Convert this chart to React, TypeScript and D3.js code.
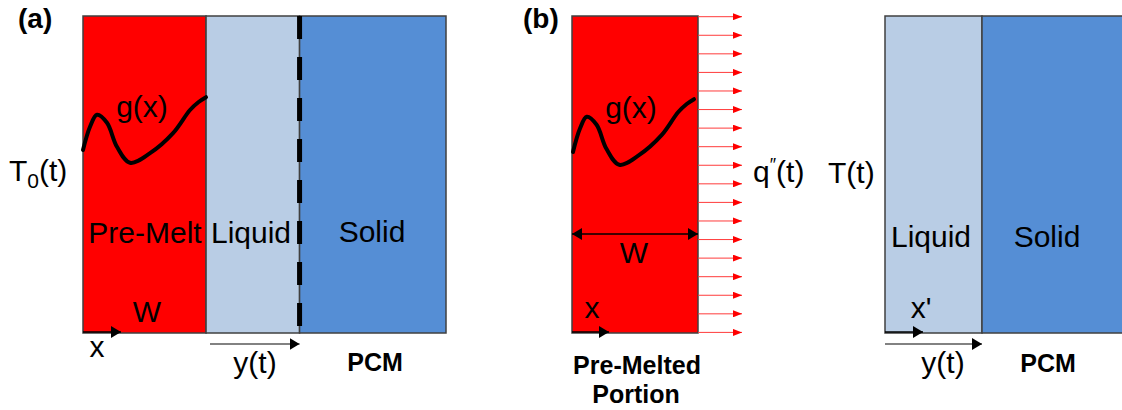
import React from 'react';
import * as d3 from 'd3';

// Layers of the one-dimensional melting problem (positions in units of W)
const layersA = ['Pre-Melt', 'Liquid', 'Solid'];
const boundsA = [0, 1.0, 1.76, 2.95];
const layersB = ['Pre-Melted'];
const boundsB = [0, 1];
const layersC = ['Liquid', 'Solid'];
const boundsC = [0, 0.77, 1.92];

// Initial temperature profile g(x) inside the pre-melted slab
const gPosX = [0, 0.057, 0.114, 0.195, 0.276, 0.382, 0.545, 0.732, 0.87, 0.94, 1.0];
const gVal = [0.25, 0.54, 0.69, 0.59, 0.29, 0.09, 0.21, 0.46, 0.75, 0.85, 0.91];

// Number of heat-flux arrows leaving the pre-melted slab
const fluxCount = 18;

const fills: Record<string, string> = {
  'Pre-Melt': '#FF0000',
  'Pre-Melted': '#FF0000',
  Liquid: '#B9CDE5',
  Solid: '#558ED5',
};

const FONT = '"Liberation Sans", Arial, sans-serif';
const TOP = 16;
const BOTTOM = 333;
const EDGE = '#404040';

function Layers({ names, bounds, x }: { names: string[]; bounds: number[]; x: d3.ScaleLinear<number, number> }) {
  return (
    <g>
      {names.map((n, i) => (
        <rect
          key={n}
          x={x(bounds[i])}
          y={TOP}
          width={x(bounds[i + 1]) - x(bounds[i])}
          height={BOTTOM - TOP}
          fill={fills[n]}
          stroke={EDGE}
          strokeWidth={1.5}
        />
      ))}
    </g>
  );
}

function GCurve({ x, y }: { x: d3.ScaleLinear<number, number>; y: d3.ScaleLinear<number, number> }) {
  const line = d3
    .line<number>()
    .x((_, i) => x(gPosX[i]))
    .y((d) => y(d))
    .curve(d3.curveCatmullRom.alpha(0.5));
  return <path d={line(gVal) || ''} fill="none" stroke="#000" strokeWidth={4} strokeLinecap="round" />;
}

export default function App() {
  const xA = d3.scaleLinear().domain([0, boundsA[3]]).range([83, 446]);
  const xB = d3.scaleLinear().domain([0, 1]).range([572, 698]);
  const xC = d3.scaleLinear().domain([0, boundsC[1]]).range([885, 982]);

  const gxA = d3.scaleLinear().domain([0, 1]).range([83, 206]);
  const gyA = d3.scaleLinear().domain([0, 1]).range([170, 90]);
  const gxB = d3.scaleLinear().domain([0, 1]).range([573, 694]);
  const gyB = d3.scaleLinear().domain([0, 1]).range([172, 92]);

  const fluxY = d3.scalePoint<number>().domain(d3.range(fluxCount)).range([16.7, 332.4]);

  const txt = { fontFamily: FONT, fontSize: 30, fill: '#000' } as const;
  const bold = { fontFamily: FONT, fontSize: 25, fontWeight: 700, fill: '#000' } as const;

  return (
    <svg
      width={1122}
      height={410}
      style={{ position: 'absolute', left: 0, top: 0, background: '#fff' }}
    >
      <defs>
        <marker id="headK" viewBox="0 0 10 10" refX={10} refY={5} markerWidth={10} markerHeight={12}
          markerUnits="userSpaceOnUse" orient="auto-start-reverse" preserveAspectRatio="none">
          <path d="M0,0 L10,5 L0,10 z" fill="#000" />
        </marker>
        <marker id="headR" viewBox="0 0 10 10" refX={10} refY={5} markerWidth={9} markerHeight={7}
          markerUnits="userSpaceOnUse" orient="auto" preserveAspectRatio="none">
          <path d="M0,0 L10,5 L0,10 z" fill="#FF0000" />
        </marker>
      </defs>

      {/* (a) melting with a pre-melted layer */}
      <Layers names={layersA} bounds={boundsA} x={xA} />
      <line x1={xA(boundsA[2])} x2={xA(boundsA[2])} y1={TOP} y2={BOTTOM}
        stroke="#000" strokeWidth={5} strokeDasharray="23 18" />
      <GCurve x={gxA} y={gyA} />
      <text x={18} y={28} style={{ ...bold, fontSize: 28 }}>(a)</text>
      <text x={9} y={181} style={txt}>T<tspan fontSize={21} dy={7}>0</tspan><tspan dy={-7}>(t)</tspan></text>
      <text x={142} y={117} textAnchor="middle" style={txt}>g(x)</text>
      <text x={145} y={243} textAnchor="middle" style={txt}>Pre-Melt</text>
      <text x={251} y={243} textAnchor="middle" style={txt}>Liquid</text>
      <text x={372} y={242} textAnchor="middle" style={txt}>Solid</text>
      <text x={147} y={322} textAnchor="middle" style={txt}>W</text>
      <line x1={xA(0)} x2={121} y1={BOTTOM - 1} y2={BOTTOM - 1} stroke="#000" strokeWidth={1.5} markerEnd="url(#headK)" />
      <text x={97} y={357} textAnchor="middle" style={txt}>x</text>
      <line x1={210} x2={xA(boundsA[2])} y1={344} y2={344} stroke="#595959" strokeWidth={1.5} markerEnd="url(#headK)" />
      <text x={255} y={373} textAnchor="middle" style={txt}>y(t)</text>
      <text x={375} y={371} textAnchor="middle" style={bold}>PCM</text>

      {/* (b) pre-melted portion with outgoing heat flux */}
      <Layers names={layersB} bounds={boundsB} x={xB} />
      <GCurve x={gxB} y={gyB} />
      {fluxY.domain().map((k) => (
        <line key={k} x1={xB(1)} x2={742} y1={fluxY(k)} y2={fluxY(k)}
          stroke="#FF3b3b" strokeWidth={1} markerEnd="url(#headR)" />
      ))}
      <text x={523} y={28} style={{ ...bold, fontSize: 28 }}>(b)</text>
      <text x={631} y={118} textAnchor="middle" style={txt}>g(x)</text>
      <line x1={xB(0)} x2={xB(1)} y1={234} y2={234} stroke="#000" strokeWidth={1.5}
        markerStart="url(#headK)" markerEnd="url(#headK)" />
      <text x={634} y={263} textAnchor="middle" style={txt}>W</text>
      <text x={592} y={318} textAnchor="middle" style={txt}>x</text>
      <line x1={xB(0)} x2={609} y1={BOTTOM - 1} y2={BOTTOM - 1} stroke="#000" strokeWidth={1.5} markerEnd="url(#headK)" />
      <text x={637} y={374} textAnchor="middle" style={bold}>Pre-Melted</text>
      <text x={636} y={403} textAnchor="middle" style={bold}>Portion</text>
      <text x={753} y={182} style={txt}>q<tspan fontSize={18} dy={-11}>″</tspan><tspan dy={11}>(t)</tspan></text>

      {/* remaining PCM driven by T(t) */}
      <text x={828} y={183} style={txt}>T(t)</text>
      <Layers names={layersC} bounds={boundsC} x={xC} />
      <text x={931} y={247} textAnchor="middle" style={txt}>Liquid</text>
      <text x={1047} y={247} textAnchor="middle" style={txt}>Solid</text>
      <text x={921} y={318} textAnchor="middle" style={txt}>x'</text>
      <line x1={xC(0)} x2={923} y1={BOTTOM - 1} y2={BOTTOM - 1} stroke="#000" strokeWidth={1.5} markerEnd="url(#headK)" />
      <line x1={xC(0)} x2={xC(boundsC[1])} y1={344} y2={344} stroke="#595959" strokeWidth={1.5} markerEnd="url(#headK)" />
      <text x={943} y={373} textAnchor="middle" style={txt}>y(t)</text>
      <text x={1048} y={372} textAnchor="middle" style={bold}>PCM</text>
    </svg>
  );
}
